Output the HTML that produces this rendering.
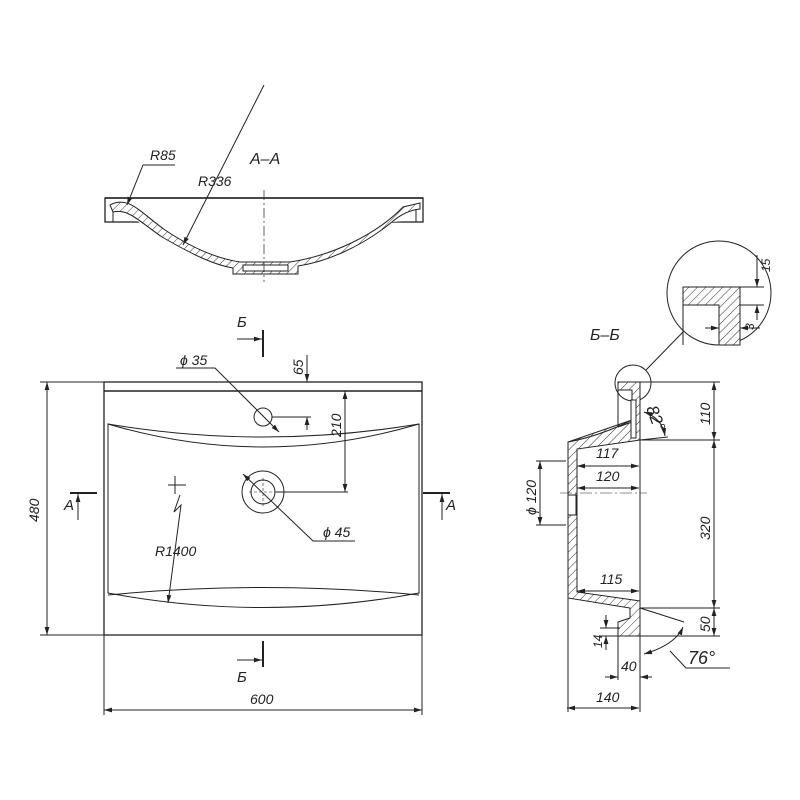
<!DOCTYPE html>
<html><head><meta charset="utf-8"><style>
html,body{margin:0;padding:0;background:#fff;width:800px;height:800px;overflow:hidden}
svg text{font-family:"Liberation Sans",sans-serif;font-style:italic;fill:#222}
</style></head><body>
<svg width="800" height="800" viewBox="0 0 800 800" xmlns="http://www.w3.org/2000/svg">
<defs>
<pattern id="h" patternUnits="userSpaceOnUse" width="6" height="6" patternTransform="rotate(45)">
<rect width="6" height="6" fill="#fff"/><line x1="0" y1="0" x2="0" y2="6" stroke="#333" stroke-width="1"/></pattern>
<marker id="a" viewBox="0 0 10 10" refX="10" refY="5" markerWidth="8" markerHeight="8" orient="auto-start-reverse"><path d="M0,2 L10,5 L0,8z" fill="#222"/></marker>
</defs>
<g stroke="#222" fill="none" stroke-width="1">
<!-- Section A-A -->
<rect x="105" y="198" width="318" height="24" fill="#fff" stroke-width="1.3"/>
<line x1="105" y1="198" x2="423" y2="198" stroke-width="1.5"/>
<path d="M106,199 L422,199 L422,221 L405,221 L392,222 C360,248 325,262 298,266 L298,274 L233,274 L233,268 C215,265 195,256 162,237 C140,222 128,214 125,221 L106,221 Z" fill="#fff" stroke="none"/>
<path d="M110,205 C128,195 140,212 165,230 C195,250 220,259 240,262 L290,262 C330,256 375,236 403,207 L420,203 L420,209 C410,210 400,215 392,222 C360,248 325,262 298,266 L298,274 L233,274 L233,268 C215,265 195,256 162,237 C140,222 128,208 113,212 Z" fill="url(#h)"/>
<rect x="243" y="265" width="45" height="6" fill="#fff"/>
<line x1="113" y1="212" x2="113" y2="222"/>
<line x1="416" y1="209" x2="416" y2="222"/>
<line x1="264" y1="85" x2="183" y2="245" marker-end="url(#a)"/>
<polyline points="175,165 143,165 127,205" marker-end="url(#a)"/>
<line x1="264" y1="190" x2="264" y2="282" stroke-dasharray="10,3,2,3" stroke-width="0.7"/>
<!-- Plan view -->
<rect x="104" y="382" width="318" height="253" stroke-width="1.3"/>
<line x1="104" y1="391" x2="422" y2="391" stroke-width="1.5"/>
<path d="M108,424 Q263,470 419,424 L419,593 Q263,622 108,593 Z"/>
<path d="M108,424 Q263,450 419,424"/>
<path d="M108,595 Q263,580 419,595"/>
<circle cx="263" cy="417" r="9"/>
<circle cx="263" cy="492" r="21"/>
<circle cx="263" cy="492" r="12"/>
<line x1="263" y1="478" x2="263" y2="506" stroke-dasharray="3,2" stroke-width="0.6"/>
<line x1="249" y1="492" x2="277" y2="492" stroke-dasharray="3,2" stroke-width="0.6"/>
<line x1="47" y1="382" x2="47" y2="635" marker-start="url(#a)" marker-end="url(#a)"/>
<line x1="40" y1="382" x2="104" y2="382"/><line x1="40" y1="635" x2="104" y2="635"/>
<line x1="104" y1="710" x2="422" y2="710" marker-start="url(#a)" marker-end="url(#a)"/>
<line x1="104" y1="635" x2="104" y2="715"/><line x1="422" y1="635" x2="422" y2="715"/>
<line x1="345" y1="391" x2="345" y2="492" marker-start="url(#a)" marker-end="url(#a)"/>
<line x1="276" y1="492" x2="348" y2="492"/>
<line x1="307" y1="355" x2="307" y2="382" marker-end="url(#a)"/>
<line x1="307" y1="430" x2="307" y2="417" marker-end="url(#a)"/>
<line x1="272" y1="417" x2="311" y2="417"/>
<polyline points="176,368 215,368 279,432" marker-end="url(#a)"/>
<polyline points="355,541 313,541 243,474" marker-end="url(#a)"/>
<line x1="175" y1="476" x2="175" y2="494"/><line x1="168" y1="485" x2="186" y2="485"/>
<polyline points="180,495 174,512 181,505 168,603" marker-end="url(#a)"/>
<!-- section markers -->
<line x1="70" y1="493" x2="97" y2="493" stroke-width="2"/>
<line x1="78" y1="520" x2="78" y2="494" marker-end="url(#a)"/>
<line x1="423" y1="493" x2="450" y2="493" stroke-width="2"/>
<line x1="442" y1="520" x2="442" y2="494" marker-end="url(#a)"/>
<line x1="263" y1="330" x2="263" y2="357" stroke-width="2"/>
<line x1="237" y1="339" x2="262" y2="339" marker-end="url(#a)"/>
<line x1="263" y1="641" x2="263" y2="667" stroke-width="2"/>
<line x1="237" y1="660" x2="262" y2="660" marker-end="url(#a)"/>
<!-- Section B-B -->
<circle cx="633" cy="383" r="18"/>
<circle cx="719" cy="293" r="52"/>
<line x1="646" y1="370" x2="683" y2="332"/>
<path d="M683,287 L740,287 L740,345 L719,345 L719,305 L683,305 Z" fill="url(#h)"/>
<line x1="683" y1="287" x2="683" y2="345"/>
<line x1="740" y1="287" x2="764" y2="287"/>
<line x1="740" y1="305" x2="764" y2="305"/>
<line x1="757" y1="255" x2="757" y2="287" marker-end="url(#a)"/>
<line x1="757" y1="320" x2="757" y2="305" marker-end="url(#a)"/>
<line x1="705" y1="328" x2="719" y2="328" marker-end="url(#a)"/>
<line x1="760" y1="328" x2="740" y2="328" marker-end="url(#a)"/>
<line x1="740" y1="305" x2="740" y2="335"/>
<path d="M618,382 L640,382 L640,440 L577,449 L577,592 L640,601 L640,636 L618,636 L618,622 L630,618 L630,608 L568,598 L568,442 L632,420 L632,390 L618,390 Z" fill="url(#h)"/>
<line x1="618" y1="390" x2="618" y2="427"/>
<line x1="618" y1="427" x2="632" y2="422"/>
<path d="M568,442 Q600,436 632,420"/>
<rect x="631" y="400" width="5" height="38" fill="#fff"/>
<rect x="568" y="495" width="8" height="20" fill="#fff"/>
<line x1="640" y1="382" x2="640" y2="712"/>
<line x1="568" y1="598" x2="568" y2="712"/>
<line x1="618" y1="636" x2="618" y2="680"/>
<line x1="640" y1="382" x2="720" y2="382"/>
<line x1="640" y1="440" x2="720" y2="440"/>
<line x1="640" y1="608" x2="720" y2="608"/>
<line x1="640" y1="636" x2="720" y2="636"/>
<line x1="714" y1="382" x2="714" y2="440" marker-start="url(#a)" marker-end="url(#a)"/>
<line x1="714" y1="440" x2="714" y2="608" marker-start="url(#a)" marker-end="url(#a)"/>
<line x1="714" y1="608" x2="714" y2="636" marker-start="url(#a)" marker-end="url(#a)"/>
<line x1="577" y1="466" x2="639" y2="466" marker-start="url(#a)" marker-end="url(#a)"/>
<line x1="577" y1="488" x2="639" y2="488" marker-start="url(#a)" marker-end="url(#a)"/>
<line x1="560" y1="493" x2="647" y2="493" stroke-dasharray="12,3,2,3" stroke-width="0.6"/>
<line x1="577" y1="591" x2="639" y2="591" marker-start="url(#a)" marker-end="url(#a)"/>
<line x1="536" y1="461" x2="566" y2="461"/><line x1="536" y1="525" x2="566" y2="525"/>
<line x1="540" y1="461" x2="540" y2="525" marker-start="url(#a)" marker-end="url(#a)"/>
<line x1="567" y1="708" x2="639" y2="708" marker-start="url(#a)" marker-end="url(#a)"/>
<line x1="605" y1="677" x2="618" y2="677" marker-end="url(#a)"/>
<line x1="652" y1="677" x2="640" y2="677" marker-end="url(#a)"/>
<line x1="600" y1="628" x2="620" y2="628"/><line x1="600" y1="636" x2="620" y2="636"/>
<line x1="606" y1="615" x2="606" y2="628" marker-end="url(#a)"/>
<line x1="606" y1="650" x2="606" y2="636" marker-end="url(#a)"/>
<line x1="640" y1="608" x2="684" y2="622"/>
<path d="M644,654 Q675,645 683,627" marker-start="url(#a)" marker-end="url(#a)"/>
<polyline points="670,651 686,668 730,668"/>
<line x1="640" y1="440" x2="668" y2="437"/>
<path d="M644,412 Q662,418 665,436" marker-start="url(#a)" marker-end="url(#a)"/>
</g>
<g font-size="14">
<text x="150" y="160">R85</text>
<text x="198" y="186">R336</text>
<text x="250" y="164" font-size="16">A–A</text>
<text x="180" y="365">ϕ 35</text>
<text x="323" y="537">ϕ 45</text>
<text x="155" y="556">R1400</text>
<text x="250" y="704">600</text>
<text transform="translate(39,522) rotate(-90)">480</text>
<text transform="translate(341,437) rotate(-90)">210</text>
<text transform="translate(303,375) rotate(-90)">65</text>
<text x="237" y="327" font-size="15">Б</text>
<text x="237" y="682" font-size="15">Б</text>
<text x="64" y="510" font-size="15">A</text>
<text x="446" y="510" font-size="15">A</text>
<text x="590" y="340" font-size="16">Б–Б</text>
<text x="596" y="458">117</text>
<text x="596" y="481">120</text>
<text x="600" y="584">115</text>
<text transform="translate(536,515) rotate(-90)">ϕ 120</text>
<text transform="translate(710,425) rotate(-90)">110</text>
<text transform="translate(710,540) rotate(-90)">320</text>
<text transform="translate(710,632) rotate(-90)">50</text>
<text transform="translate(770,272) rotate(-90)" font-size="12">15</text>
<text transform="translate(754,330) rotate(-90)" font-size="12">3</text>
<text transform="translate(602,648) rotate(-90)" font-size="12">14</text>
<text x="621" y="671">40</text>
<text x="596" y="702">140</text>
<text x="688" y="664" font-size="18">76°</text>
<text transform="translate(646,408) rotate(70)" font-size="17">82°</text>
</g>
</svg>
</body></html>
